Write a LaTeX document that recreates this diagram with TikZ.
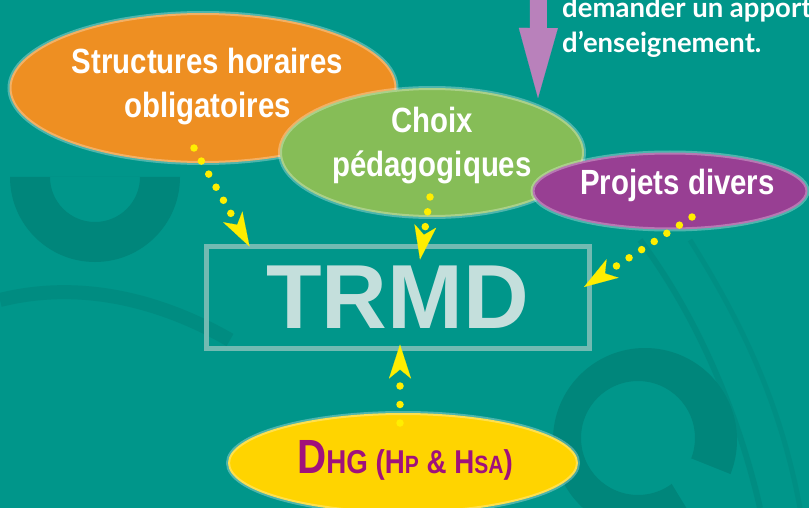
\documentclass[tikz,border=0pt]{standalone}
\usepackage{fontspec}
\setmainfont{Liberation Sans}
\newfontfamily\cond[FakeStretch=0.84]{Liberation Sans}
\newfontfamily\topfont{Lato}
\usetikzlibrary{shapes.geometric,arrows.meta,calc}
\definecolor{bg}{HTML}{00968A}
\definecolor{bgdark}{HTML}{00867B}
\definecolor{orangeC}{HTML}{EE8F22}
\definecolor{greenC}{HTML}{86BD57}
\definecolor{purpleC}{HTML}{983F93}
\definecolor{yellowC}{HTML}{FFD400}
\definecolor{dotC}{HTML}{FFEE00}
\definecolor{magC}{HTML}{A0117C}
\definecolor{lilac}{HTML}{B981BB}
\definecolor{trmdC}{HTML}{C4DFDC}
\definecolor{boxC}{HTML}{72BAB2}
\tikzset{
  ell/.style={ellipse, draw=white, draw opacity=0.3, line width=4pt, inner sep=0pt},
  etext/.style={anchor=base, align=center, text=white, inner sep=0pt,
    font=\cond\bfseries\fontsize{35}{44}\selectfont},
  conn/.style={draw=dotC, line width=7.5pt, line cap=round, dash pattern=on 0pt off 15pt,
    -{Stealth[length=34pt,width=22pt,inset=9pt,line width=0.1pt,fill=dotC]}},
}
\begin{document}
\begin{tikzpicture}[x=1pt,y=-1pt]
\useasboundingbox (0,0) rectangle (809,508);
\fill[bg] (0,0) rectangle (809,508);
% faint background decorations
\begin{scope}
\clip (0,0) rectangle (809,508);
\fill[bgdark, even odd rule] (10,177) arc[start angle=180, end angle=0, radius=85] -- cycle
  (140,177) arc[start angle=0, end angle=180, radius=45] -- cycle;
\draw[bgdark, opacity=0.6, line width=14pt] (0,300) .. controls (80,280) and (160,300) .. (230,340);
\fill[bgdark, even odd rule] (645,440) circle[radius=92] (638,438) circle[radius=57];
\fill[bg] (645,440) -- (700,530) -- (745,530) -- (745,480) -- cycle;
\draw[bgdark, opacity=0.5, line width=6pt] (640,240) .. controls (700,320) and (740,420) .. (760,508);
\draw[bgdark, opacity=0.4, line width=5pt] (690,240) .. controls (740,320) and (780,400) .. (800,508);
\end{scope}

% top purple arrow and text
\coordinate (ptop) at (538.5,-5);
\coordinate (ptip) at (538,98);
\draw[lilac, line width=17pt, -{Triangle[length=70pt,width=39pt,line width=0.1pt]}] (ptop) -- (ptip);
\node[anchor=base west, align=left, text=white, inner sep=0pt,
  font=\topfont\bfseries\fontsize{27.5}{35}\selectfont] (note) at (562,53)
  {demander un apport\\d’enseignement.};

% ellipses
\node[ell, fill=orangeC, minimum width=387pt, minimum height=150pt] (hor) at (203,88) {};
\node[etext] (horT) at ($(hor.center)+(4.5,30)$) {Structures horaires\\obligatoires};
\node[ell, fill=greenC, minimum width=304pt, minimum height=129pt] (cho) at (432,152.5) {};
\node[etext] (choT) at ($(cho.center)+(0,24.5)$) {Choix\\pédagogiques};
\node[ell, fill=purpleC, minimum width=275pt, minimum height=77pt] (pro) at (670,191) {};
\node[etext] (proT) at ($(pro.center)+(7.5,4)$) {Projets divers};
\node[ell, fill=yellowC, minimum width=350pt, minimum height=100pt] (dhg) at (403,463) {};
\node[etext, text=magC] (dhgT) at ($(dhg.center)+(2,10)$)
  {{\fontsize{48}{44}\selectfont D}{\fontsize{33}{44}\selectfont HG (H}{\fontsize{25}{44}\selectfont P}{\fontsize{33}{44}\selectfont{} \& H}{\fontsize{25}{44}\selectfont SA}{\fontsize{33}{44}\selectfont )}};

% TRMD box
\node[draw=boxC, line width=5pt, minimum width=383pt, minimum height=102pt, inner sep=0pt,
  text=trmdC, font=\bfseries\fontsize{91}{91}\selectfont] (trmd) at (397.5,297) {TRMD};

% connectors
\draw[conn] ($(hor.center)+(-9,60)$) -- ($(trmd.north west)+(46,3)$);
\draw[conn] ($(cho.center)+(-2,44.5)$) -- ($(trmd.north)+(22.5,16)$);
\draw[conn] ($(pro.center)+(22,26)$) -- ($(trmd.east)+(-7.5,-10)$);
\draw[conn, dash pattern=on 0pt off 18.5pt] ($(dhg.center)+(-3,-40)$) -- ($(trmd.south)+(2.5,-6)$);
\end{tikzpicture}
\end{document}
